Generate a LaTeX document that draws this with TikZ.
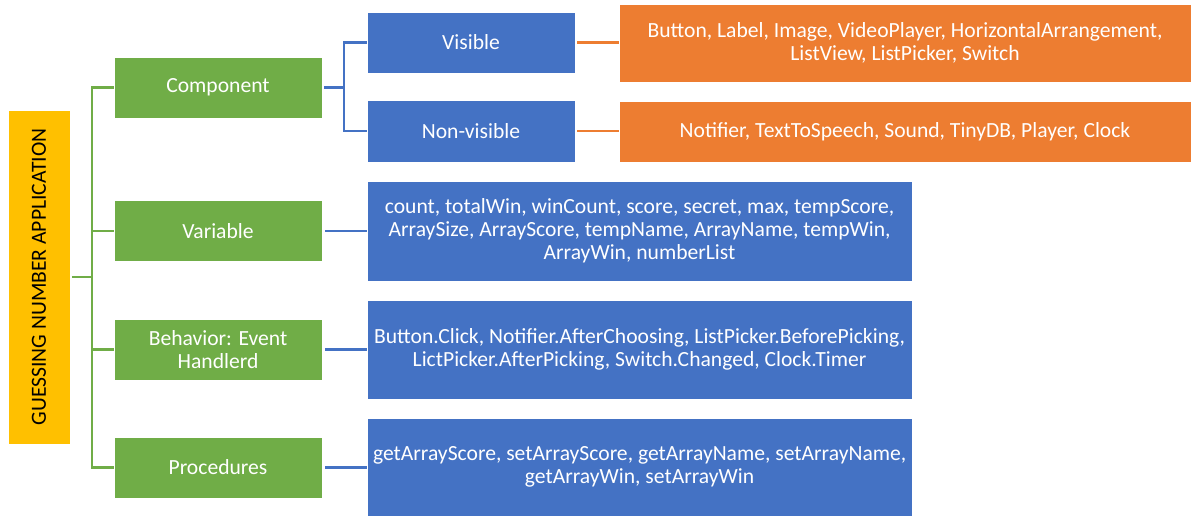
\documentclass[tikz,border=0pt]{standalone}
\usepackage{fontspec}
\usepackage{graphicx}
\setmainfont{Carlito}
\definecolor{rootgold}{HTML}{FFC000}
\definecolor{leafgreen}{HTML}{70AD47}
\definecolor{itemblue}{HTML}{4472C4}
\definecolor{listorange}{HTML}{ED7D31}
\tikzset{
  box/.style={draw=white, line width=0.6pt, inner sep=0pt, align=center,
    text=white, font=\fontsize{16.2}{17.4}\selectfont},
  rootbox/.style={box, fill=rootgold, text=black},
  greenbox/.style={box, fill=leafgreen, minimum width=208*0.75pt, minimum height=61*0.75pt},
  bluebox/.style={box, fill=itemblue, minimum width=208*0.75pt},
  widebox/.style={box, fill=itemblue, minimum width=545*0.75pt},
  orangebox/.style={box, fill=listorange, minimum width=572*0.75pt},
  gline/.style={draw=leafgreen, line width=1.6pt},
  bline/.style={draw=itemblue, line width=1.6pt},
  oline/.style={draw=listorange, line width=1.6pt},
}
\begin{document}
\begin{tikzpicture}[x=0.75pt, y=-0.75pt]
\useasboundingbox (0,0) rectangle (1191,516);

% root of the tree
\node[rootbox, minimum width=62*0.75pt, minimum height=334*0.75pt] (root) at (39,277)
  {\rotatebox{90}{GUESSING NUMBER APPLICATION}};

% first level
\node[greenbox] (comp) at (218,87.5) {Component};
\node[greenbox] (var)  at (218,231) {Variable};
\node[greenbox] (beh)  at (218,349.5) {Behavior: Event\\Handlerd};
\node[greenbox] (proc) at (218,467.5) {Procedures};

% component kinds
\node[bluebox, minimum height=61*0.75pt] (vis)  at (471,42.5) {Visible};
\node[bluebox, minimum height=62*0.75pt] (nvis) at (471,131) {Non-visible};

% component lists
\node[orangebox, minimum height=78*0.75pt] (visl) at (905,43)
  {Button, Label, Image, VideoPlayer, HorizontalArrangement,\\ListView, ListPicker, Switch};
\node[orangebox, minimum height=61*0.75pt] (nvisl) at (905,131.5)
  {Notifier, TextToSpeech, Sound, TinyDB, Player, Clock};

% detail boxes
\node[widebox, minimum height=100*0.75pt] (varl) at (639.5,231)
  {count, totalWin, winCount, score, secret, max, tempScore,\\ArraySize, ArrayScore, tempName, ArrayName, tempWin,\\ArrayWin, numberList};
\node[widebox, minimum height=99*0.75pt] (behl) at (639.5,349.5)
  {Button.Click, Notifier.AfterChoosing, ListPicker.BeforePicking,\\LictPicker.AfterPicking, Switch.Changed, Clock.Timer};
\node[widebox, minimum height=98*0.75pt] (procl) at (639.5,467)
  {getArrayScore, setArrayScore, getArrayName, setArrayName,\\getArrayWin, setArrayWin};

% green trunk and branches
\coordinate (trunk) at (92,0);
\draw[gline] (comp.west) -- (comp.west -| trunk) -- (proc.west -| trunk) -- (proc.west);
\draw[gline] (root.east) ++(1.5,0) -- (root.east -| trunk);
\draw[gline] (var.west -| trunk) -- (var.west);
\draw[gline] (beh.west -| trunk) -- (beh.west);

% blue bracket from Component
\coordinate (bracket) at (344,0);
\draw[bline] (comp.east) ++(2,0) -- (comp.east -| bracket);
\draw[bline] (vis.west) -- (vis.west -| bracket) -- (nvis.west -| bracket) -- (nvis.west);

% orange links
\draw[oline] ([xshift=1.5pt]vis.east) -- (vis.east -| visl.west);
\draw[oline] ([xshift=1.5pt]nvis.east) -- (nvis.east -| nvisl.west);

% detail links
\draw[bline] ([xshift=2pt]var.east) -- (var.east -| varl.west);
\draw[bline] ([xshift=2pt]beh.east) -- (beh.east -| behl.west);
\draw[bline] ([xshift=2pt]proc.east) -- (proc.east -| procl.west);
\end{tikzpicture}
\end{document}
